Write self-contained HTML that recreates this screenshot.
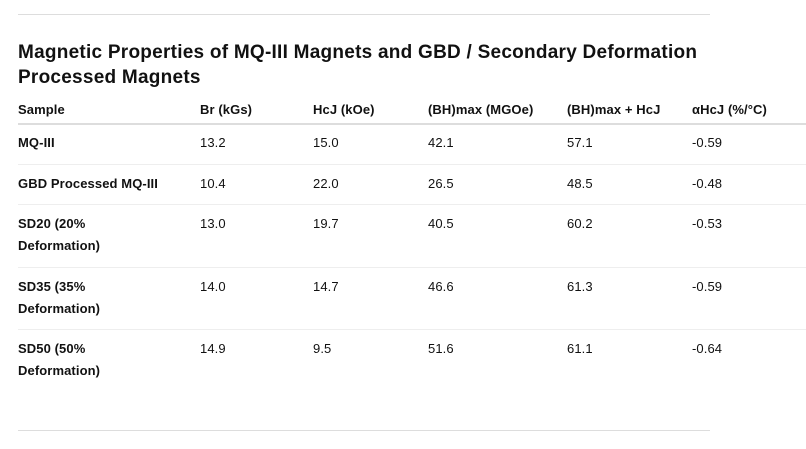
<!DOCTYPE html>
<html><head><style>
body{margin:0;width:806px;height:449px;background:#fff;font-family:"Liberation Sans",sans-serif;color:#111;position:relative;overflow:hidden}
.a{position:absolute;font-size:13px;white-space:nowrap;line-height:22px;letter-spacing:0.1px}
.b{font-weight:bold}
.h{position:absolute;left:18px;height:1px;background:#e8e8e8}
</style></head><body>
<div class="h" style="top:14px;width:692px;background:#ddd"></div>
<div class="a b" style="left:18px;top:40px;font-size:19px;line-height:25px;letter-spacing:0.25px">Magnetic Properties of MQ-III Magnets and GBD / Secondary Deformation<br>Processed Magnets</div>
<div class="a b" style="left:18px;top:99px">Sample</div>
<div class="a b" style="left:200px;top:99px">Br (kGs)</div>
<div class="a b" style="left:313px;top:99px">HcJ (kOe)</div>
<div class="a b" style="left:428px;top:99px">(BH)max (MGOe)</div>
<div class="a b" style="left:567px;top:99px">(BH)max + HcJ</div>
<div class="a b" style="left:692px;top:99px">αHcJ (%/°C)</div>
<div class="h" style="top:123px;width:788px;height:2px;background:#ddd"></div>

<div class="a b" style="left:18px;top:132px">MQ-III</div>
<div class="a" style="left:200px;top:132px">13.2</div><div class="a" style="left:313px;top:132px">15.0</div><div class="a" style="left:428px;top:132px">42.1</div><div class="a" style="left:567px;top:132px">57.1</div><div class="a" style="left:692px;top:132px">-0.59</div>
<div class="h" style="top:164px;width:788px;background:#eee"></div>

<div class="a b" style="left:18px;top:173px">GBD Processed MQ-III</div>
<div class="a" style="left:200px;top:173px">10.4</div><div class="a" style="left:313px;top:173px">22.0</div><div class="a" style="left:428px;top:173px">26.5</div><div class="a" style="left:567px;top:173px">48.5</div><div class="a" style="left:692px;top:173px">-0.48</div>
<div class="h" style="top:204px;width:788px;background:#eee"></div>

<div class="a b" style="left:18px;top:213px">SD20 (20%<br>Deformation)</div>
<div class="a" style="left:200px;top:213px">13.0</div><div class="a" style="left:313px;top:213px">19.7</div><div class="a" style="left:428px;top:213px">40.5</div><div class="a" style="left:567px;top:213px">60.2</div><div class="a" style="left:692px;top:213px">-0.53</div>
<div class="h" style="top:267px;width:788px;background:#eee"></div>

<div class="a b" style="left:18px;top:276px">SD35 (35%<br>Deformation)</div>
<div class="a" style="left:200px;top:276px">14.0</div><div class="a" style="left:313px;top:276px">14.7</div><div class="a" style="left:428px;top:276px">46.6</div><div class="a" style="left:567px;top:276px">61.3</div><div class="a" style="left:692px;top:276px">-0.59</div>
<div class="h" style="top:329px;width:788px;background:#eee"></div>

<div class="a b" style="left:18px;top:338px">SD50 (50%<br>Deformation)</div>
<div class="a" style="left:200px;top:338px">14.9</div><div class="a" style="left:313px;top:338px">9.5</div><div class="a" style="left:428px;top:338px">51.6</div><div class="a" style="left:567px;top:338px">61.1</div><div class="a" style="left:692px;top:338px">-0.64</div>

<div class="h" style="top:430px;width:692px;background:#ddd"></div>
</body></html>
